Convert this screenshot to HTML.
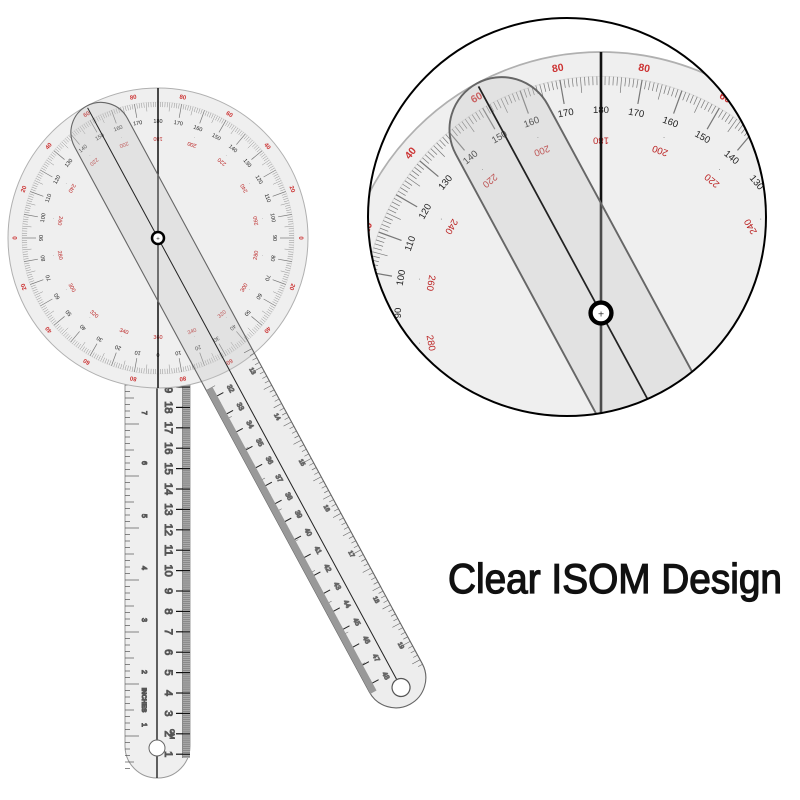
<!DOCTYPE html>
<html><head><meta charset="utf-8"><style>
html,body{margin:0;padding:0;background:#fff;width:800px;height:800px;overflow:hidden;}
svg{display:block;}
</style></head><body>
<svg id="s" width="800" height="800" viewBox="0 0 800 800" xmlns="http://www.w3.org/2000/svg" xmlns:xlink="http://www.w3.org/1999/xlink" font-family="Liberation Sans, sans-serif">
<defs>
<clipPath id="mag"><circle cx="567" cy="217" r="199"/></clipPath>
<g id="prot">
  <circle cx="158" cy="238" r="150" fill="#efefef" stroke="#b0b0b0" stroke-width="1"/>
  <circle cx="158" cy="238" r="136" fill="none" stroke="#ddd" stroke-width="0.6"/>
  <g id="ticks" stroke="#777"></g>
  <g id="labs"></g>
  <line x1="158" y1="88" x2="158" y2="388" stroke="#111" stroke-width="1.5"/>
  <g transform="rotate(-28.4 158 238)">
    <rect x="128" y="88" width="60" height="680" rx="30" fill="rgba(200,200,200,0.32)" stroke="#666" stroke-width="1.1"/>
    <line x1="158" y1="90" x2="158" y2="740" stroke="#222" stroke-width="1"/>
    <g id="armticks" stroke="#666"></g>
    <rect x="128" y="395" width="7" height="345" fill="#999"/>
    <circle cx="158" cy="749" r="9" fill="#fff" stroke="#555" stroke-width="1.2"/>
  </g>
  <circle cx="158" cy="238" r="6" fill="#fff" stroke="#000" stroke-width="2.5"/>
  <text x="158" y="240.5" font-size="6" text-anchor="middle" fill="#333">+</text>
</g>
</defs>

<rect x="125" y="340" width="65" height="438" rx="32" fill="#efefef" stroke="#999" stroke-width="1"/>
<rect x="182" y="378" width="8" height="380" fill="#8a8a8a"/>
<g id="ruler" stroke="#555"></g>
<line x1="157" y1="360" x2="157" y2="778" stroke="#111" stroke-width="1.3"/>
<circle cx="157" cy="748" r="8" fill="#fff" stroke="#666"/>

<use xlink:href="#prot" href="#prot"/>

<g clip-path="url(#mag)">
  <rect x="360" y="10" width="420" height="420" fill="#fff"/>
  <use xlink:href="#prot" href="#prot" transform="translate(601 313) scale(1.74) translate(-158 -238)"/>
</g>
<circle cx="567" cy="217" r="199" fill="none" stroke="#000" stroke-width="2"/>

<text x="448" y="593" font-size="42" fill="#111" textLength="334" lengthAdjust="spacingAndGlyphs" stroke="#111" stroke-width="1.3">Clear ISOM Design</text>

<script>
(function(){
var NS="http://www.w3.org/2000/svg";
function el(p,t,a,txt){var e=document.createElementNS(NS,t);for(var k in a)e.setAttribute(k,a[k]);if(txt!=null)e.textContent=txt;p.appendChild(e);return e;}
var cx=158,cy=238;
var T=document.getElementById('ticks'),L=document.getElementById('labs');
for(var d=0;d<360;d++){
  var a=d*Math.PI/180;var len=(d%10==0)?14:(d%5==0?9:5);
  var r2=136,r1=r2-len;
  var s=Math.sin(a),c=Math.cos(a);
  el(T,'line',{x1:cx+r1*s,y1:cy-r1*c,x2:cx+r2*s,y2:cy-r2*c,'stroke-width':(d%10==0?0.7:0.4)});
}
for(var d=0;d<360;d+=10){
  var a=d*Math.PI/180,s=Math.sin(a),c=Math.cos(a);
  var v=(d<=180)?(180-d):(d-180);
  var r=115;
  el(L,'text',{x:cx+r*s,y:cy-r*c,'font-size':5.5,fill:'#222','text-anchor':'middle',transform:'rotate('+d+' '+(cx+r*s)+' '+(cy-r*c)+')'},String(v));
  if(d%20==0){
    var r3=101;
    var rv=180+Math.abs(d<=180? d : d-360);
    el(L,'text',{x:cx+r3*s,y:cy-r3*c,'font-size':5.5,fill:'#b22','text-anchor':'middle',transform:'rotate('+(d+180)+' '+(cx+r3*s)+' '+(cy-r3*c)+')'},String(rv));
    el(L,'text',{x:cx+(r3+5)*s,y:cy-(r3+5)*c,'font-size':4,fill:'#555','text-anchor':'middle'},'·');
  }
}
for(var d=0;d<360;d+=20){
  var a=(d+10)*Math.PI/180,s=Math.sin(a),c=Math.cos(a);var r=143;
  var dd=d+10;var v=[80,60,40,20,0,20,40,60,80,80,60,40,20,0,20,40,60,80][d/20];
  el(L,'text',{x:cx+r*s,y:cy-r*c+2,'font-size':6,'font-weight':'bold',fill:'#c33','text-anchor':'middle',transform:'rotate('+dd+' '+(cx+r*s)+' '+(cy-r*c)+')'},String(v));
}
var A=document.getElementById('armticks');
for(var y=395;y<740;y+=3.5){var k=Math.round((y-395)/3.5);
  var ln=(k%10==0)?10:(k%5==0?7:4);
  el(A,'line',{x1:128,y1:y,x2:128+ln,y2:y,'stroke-width':0.5});
}
for(var y=380;y<740;y+=5.2){var k=Math.round((y-380)/5.2);
  var ln=(k%4==0)?9:5;
  el(A,'line',{x1:188,y1:y,x2:188-ln,y2:y,'stroke-width':0.6});
}
for(var i=0;i<17;i++){var y=405+i*20.4;
  el(A,'text',{x:148,y:y,'font-size':7,fill:'#222','text-anchor':'middle',transform:'rotate(90 148 '+y+')'},String(32+i));
  el(A,'line',{x1:128,y1:y,x2:142,y2:y,'stroke-width':1,stroke:'#222'});
}
for(var i=0;i<7;i++){var y=400+i*52;el(A,'text',{x:176,y:y,'font-size':6,fill:'#333','text-anchor':'middle',transform:'rotate(90 176 '+y+')'},String(13+i));}
var R=document.getElementById('ruler');
for(var i=0;i<19;i++){var y=387+i*20.4;var n=19-i;
  el(R,'text',{x:168,y:y,'font-size':11,fill:'#111','text-anchor':'middle','dominant-baseline':'middle',transform:'rotate(90 168 '+y+')'},String(n));
  el(R,'line',{x1:176,y1:y,x2:190,y2:y,'stroke-width':1.2,stroke:'#111'});
}
for(var y=378;y<758;y+=2.04){el(R,'line',{x1:183,y1:y,x2:190,y2:y,'stroke-width':0.4,stroke:'#ddd'});}
for(var y=372;y<770;y+=6.5){var k=Math.round((y-372)/6.5);var ln=(k%8==0)?14:(k%4==0?9:5);
  el(R,'line',{x1:125,y1:y,x2:125+ln,y2:y,'stroke-width':0.7});}
var inch=[[7,413],[6,463],[5,516],[4,568],[3,620],[2,672],[1,725]];
inch.forEach(function(p){el(R,'text',{x:142,y:p[1],'font-size':7,fill:'#222','text-anchor':'middle',transform:'rotate(90 142 '+p[1]+')'},String(p[0]));});
el(R,'text',{x:142,y:700,'font-size':6.5,fill:'#222','text-anchor':'middle','font-weight':'bold',transform:'rotate(90 142 700)'},'INCHES');
el(R,'text',{x:170,y:734,'font-size':6.5,fill:'#222','text-anchor':'middle',transform:'rotate(90 170 734)'},'CM');
})();
</script>
</svg>
</body></html>
